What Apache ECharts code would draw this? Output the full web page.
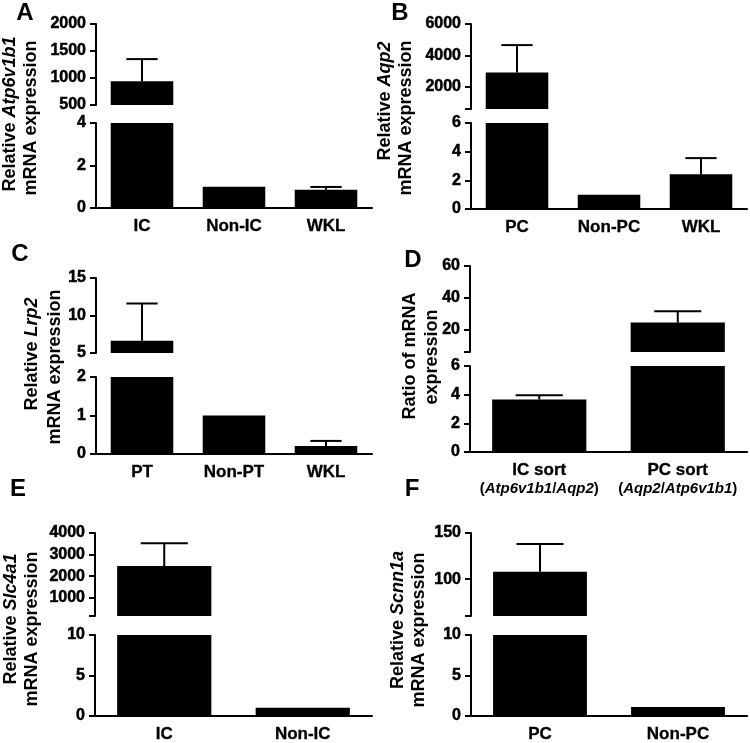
<!DOCTYPE html>
<html><head><meta charset="utf-8">
<script src="https://cdn.jsdelivr.net/npm/echarts@6/dist/echarts.min.js"></script>
<style>html,body{margin:0;padding:0;background:#fff}#c{width:750px;height:743px}</style>
</head><body><div id="c"></div><script>
const FONT = '"Liberation Sans", Arial, Helvetica, sans-serif';

// ---- Panel A ----
const catsA = ['IC', 'Non-IC', 'WKL'];
const meanA = [940, 1.0, 0.86];
const semA = [410, 0, 0.13];
const upperTicksA = [500, 1000, 1500, 2000];
const upperLabelsA = [500, 1000, 1500, 2000];
const lowerTicksA = [0, 2, 4];

// ---- Panel B ----
const catsB = ['PC', 'Non-PC', 'WKL'];
const meanB = [2920, 1.0, 2.43];
const semB = [1740, 0, 1.12];
const upperTicksB = [600, 2000, 4000, 6000];
const upperLabelsB = [2000, 4000, 6000];
const lowerTicksB = [0, 2, 4, 6];

// ---- Panel C ----
const catsC = ['PT', 'Non-PT', 'WKL'];
const meanC = [6.65, 1.0, 0.21];
const semC = [4.95, 0, 0.13];
const upperTicksC = [5, 10, 15];
const upperLabelsC = [5, 10, 15];
const lowerTicksC = [0, 1, 2];

// ---- Panel D ----
const catsD = ['IC sort', 'PC sort'];
const ratioNumD = ['Atp6v1b1', 'Aqp2'];
const ratioDenD = ['Aqp2', 'Atp6v1b1'];
const meanD = [3.66, 24.5];
const semD = [0.30, 7.1];
const upperTicksD = [6, 20, 40, 60];
const upperLabelsD = [20, 40, 60];
const lowerTicksD = [0, 2, 4, 6];

// ---- Panel E ----
const catsE = ['IC', 'Non-IC'];
const meanE = [2465, 1.0];
const semE = [1055, 0];
const upperTicksE = [150, 1000, 2000, 3000, 4000];
const upperLabelsE = [1000, 2000, 3000, 4000];
const lowerTicksE = [0, 5, 10];

// ---- Panel F ----
const catsF = ['PC', 'Non-PC'];
const meanF = [108, 1.1];
const semF = [30, 0];
const upperTicksF = [60, 100, 150];
const upperLabelsF = [100, 150];
const lowerTicksF = [0, 5, 10];

// ---- Axis titles ----
const titleGeneA = 'Atp6v1b1';
const titleGeneB = 'Aqp2';
const titleGeneC = 'Lrp2';
const titleGeneE = 'Slc4a1';
const titleGeneF = 'Scnn1a';

// layout (pixels)
const panels = [
  {letter:'A', cats:catsA, mean:meanA, sem:semA, ut:upperTicksA, ul:upperLabelsA, lt:lowerTicksA,
   left:96, width:276, uTop:24, uBot:105, lTop:123, lBot:208,
   letterPos:[25,13], t1:[10,114], t2:[31,118],
   line1:'{n|Relative }{i|' + titleGeneA + '}', line2:'{n|mRNA expression}'},
  {letter:'B', cats:catsB, mean:meanB, sem:semB, ut:upperTicksB, ul:upperLabelsB, lt:lowerTicksB,
   left:471, width:276, uTop:24, uBot:109, lTop:123, lBot:209,
   letterPos:[400,13], t1:[385,101], t2:[406,118],
   line1:'{n|Relative }{i|' + titleGeneB + '}', line2:'{n|mRNA expression}'},
  {letter:'C', cats:catsC, mean:meanC, sem:semC, ut:upperTicksC, ul:upperLabelsC, lt:lowerTicksC,
   left:96, width:276, uTop:278, uBot:353, lTop:377, lBot:454,
   letterPos:[20,254], t1:[32,354], t2:[55,367],
   line1:'{n|Relative }{i|' + titleGeneC + '}', line2:'{n|mRNA expression}'},
  {letter:'D', cats:catsD, mean:meanD, sem:semD, ut:upperTicksD, ul:upperLabelsD, lt:lowerTicksD,
   left:470, width:277, uTop:266, uBot:352, lTop:366, lBot:452, ratio:true,
   letterPos:[413,260], t1:[410,356], t2:[432,357],
   line1:'{n|Ratio of mRNA}', line2:'{n|expression}'},
  {letter:'E', cats:catsE, mean:meanE, sem:semE, ut:upperTicksE, ul:upperLabelsE, lt:lowerTicksE,
   left:95, width:277, uTop:533, uBot:616, lTop:635, lBot:718,
   letterPos:[18,489], t1:[11,619], t2:[32,629],
   line1:'{n|Relative }{i|' + titleGeneE + '}', line2:'{n|mRNA expression}'},
  {letter:'F', cats:catsF, mean:meanF, sem:semF, ut:upperTicksF, ul:upperLabelsF, lt:lowerTicksF,
   left:471, width:276, uTop:533, uBot:616, lTop:635, lBot:718,
   letterPos:[412,489], t1:[398,620], t2:[419,630],
   line1:'{n|Relative }{i|' + titleGeneF + '}', line2:'{n|mRNA expression}'}
];

const grid = [], xAxis = [], yAxis = [], series = [], graphic = [];
const BARW = '68%';

function yAx(gi, ticks, labels) {
  return {
    type:'value', gridIndex:gi, min:ticks[0], max:ticks[ticks.length-1],
    axisLine:{show:true, lineStyle:{color:'#000', width:2}},
    axisTick:{show:true, length:6, lineStyle:{color:'#000', width:2}, customValues:ticks},
    axisLabel:{color:'#000', fontWeight:'bold', fontSize:16, fontFamily:FONT, margin:10,
      textBorderColor:'#000', textBorderWidth:0.5,
      customValues:labels, formatter:(v) => String(v)},
    splitLine:{show:false}
  };
}

function errSeries(ai, means, sems) {
  return {
    type:'custom', xAxisIndex:ai, yAxisIndex:ai, clip:true, silent:true, z:3,
    data: means.map((m,i)=>[i, m, m + sems[i]]),
    renderItem(params, api) {
      if (api.value(2) <= api.value(1)) return null;
      const p0 = api.coord([api.value(0), api.value(1)]);
      const p1 = api.coord([api.value(0), api.value(2)]);
      const bw = api.size([1,0])[0] * 0.68;
      const hw = bw * 0.25;
      return {type:'group', children:[
        {type:'line', shape:{x1:p0[0], y1:p0[1], x2:p1[0], y2:p1[1]}, style:{stroke:'#000', lineWidth:2}},
        {type:'line', shape:{x1:p1[0]-hw, y1:p1[1], x2:p1[0]+hw, y2:p1[1]}, style:{stroke:'#000', lineWidth:2}}
      ]};
    }
  };
}

panels.forEach((p, k) => {
  const gu = grid.length;
  grid.push({left:p.left, width:p.width, top:p.uTop, height:p.uBot - p.uTop});
  const gl = grid.length;
  grid.push({left:p.left, width:p.width, top:p.lTop, height:p.lBot - p.lTop});

  xAxis.push({type:'category', gridIndex:gu, data:p.cats, show:false});
  let labelCfg = {color:'#000', fontWeight:'bold', fontSize:17, fontFamily:FONT, margin:10, interval:0,
    textBorderColor:'#000', textBorderWidth:0.3};
  if (p.ratio) {
    labelCfg = {
      interval:0, margin:8, color:'#000', fontFamily:FONT,
      formatter:(v, i) => '{c|' + v + '}\n{p|(}{pi|' + ratioNumD[i] + '}{p|/}{pi|' + ratioDenD[i] + '}{p|)}',
      rich:{
        c:{fontSize:17, fontWeight:'bold', fontFamily:FONT, color:'#000', lineHeight:20, textBorderColor:'#000', textBorderWidth:0.3},
        p:{fontSize:15, fontWeight:'bold', fontFamily:FONT, color:'#000', lineHeight:18},
        pi:{fontSize:15, fontWeight:'bold', fontStyle:'italic', fontFamily:FONT, color:'#000', lineHeight:18}
      }
    };
  }
  xAxis.push({type:'category', gridIndex:gl, data:p.cats,
    axisLine:{show:true, lineStyle:{color:'#000', width:2}},
    axisTick:{show:false}, axisLabel:labelCfg});

  yAxis.push(yAx(gu, p.ut, p.ul));
  yAxis.push(yAx(gl, p.lt, p.lt));

  [gu, gl].forEach(ai => {
    series.push({type:'bar', xAxisIndex:ai, yAxisIndex:ai, data:p.mean, barWidth:BARW,
      itemStyle:{color:'#000'}, clip:true, silent:true, z:2});
    series.push(errSeries(ai, p.mean, p.sem));
  });

  graphic.push({type:'text', x:p.letterPos[0], y:p.letterPos[1],
    style:{text:p.letter, font:'bold 24px ' + FONT, fill:'#000', align:'center', verticalAlign:'middle'}});
  const rich = {
    n:{fontSize:18, fontWeight:'bold', fontFamily:FONT, fill:'#000'},
    i:{fontSize:18, fontWeight:'bold', fontStyle:'italic', fontFamily:FONT, fill:'#000'}
  };
  graphic.push({type:'text', x:p.t1[0], y:p.t1[1], rotation:Math.PI/2,
    style:{text:p.line1, rich:rich, align:'center', verticalAlign:'middle', fill:'#000', font:'bold 18px ' + FONT}});
  graphic.push({type:'text', x:p.t2[0], y:p.t2[1], rotation:Math.PI/2,
    style:{text:p.line2, rich:rich, align:'center', verticalAlign:'middle', fill:'#000', font:'bold 18px ' + FONT}});
});

const chart = echarts.init(document.getElementById('c'), null, {renderer:'canvas'});
chart.setOption({animation:false, backgroundColor:'#fff', grid, xAxis, yAxis, series, graphic});
</script></body></html>
